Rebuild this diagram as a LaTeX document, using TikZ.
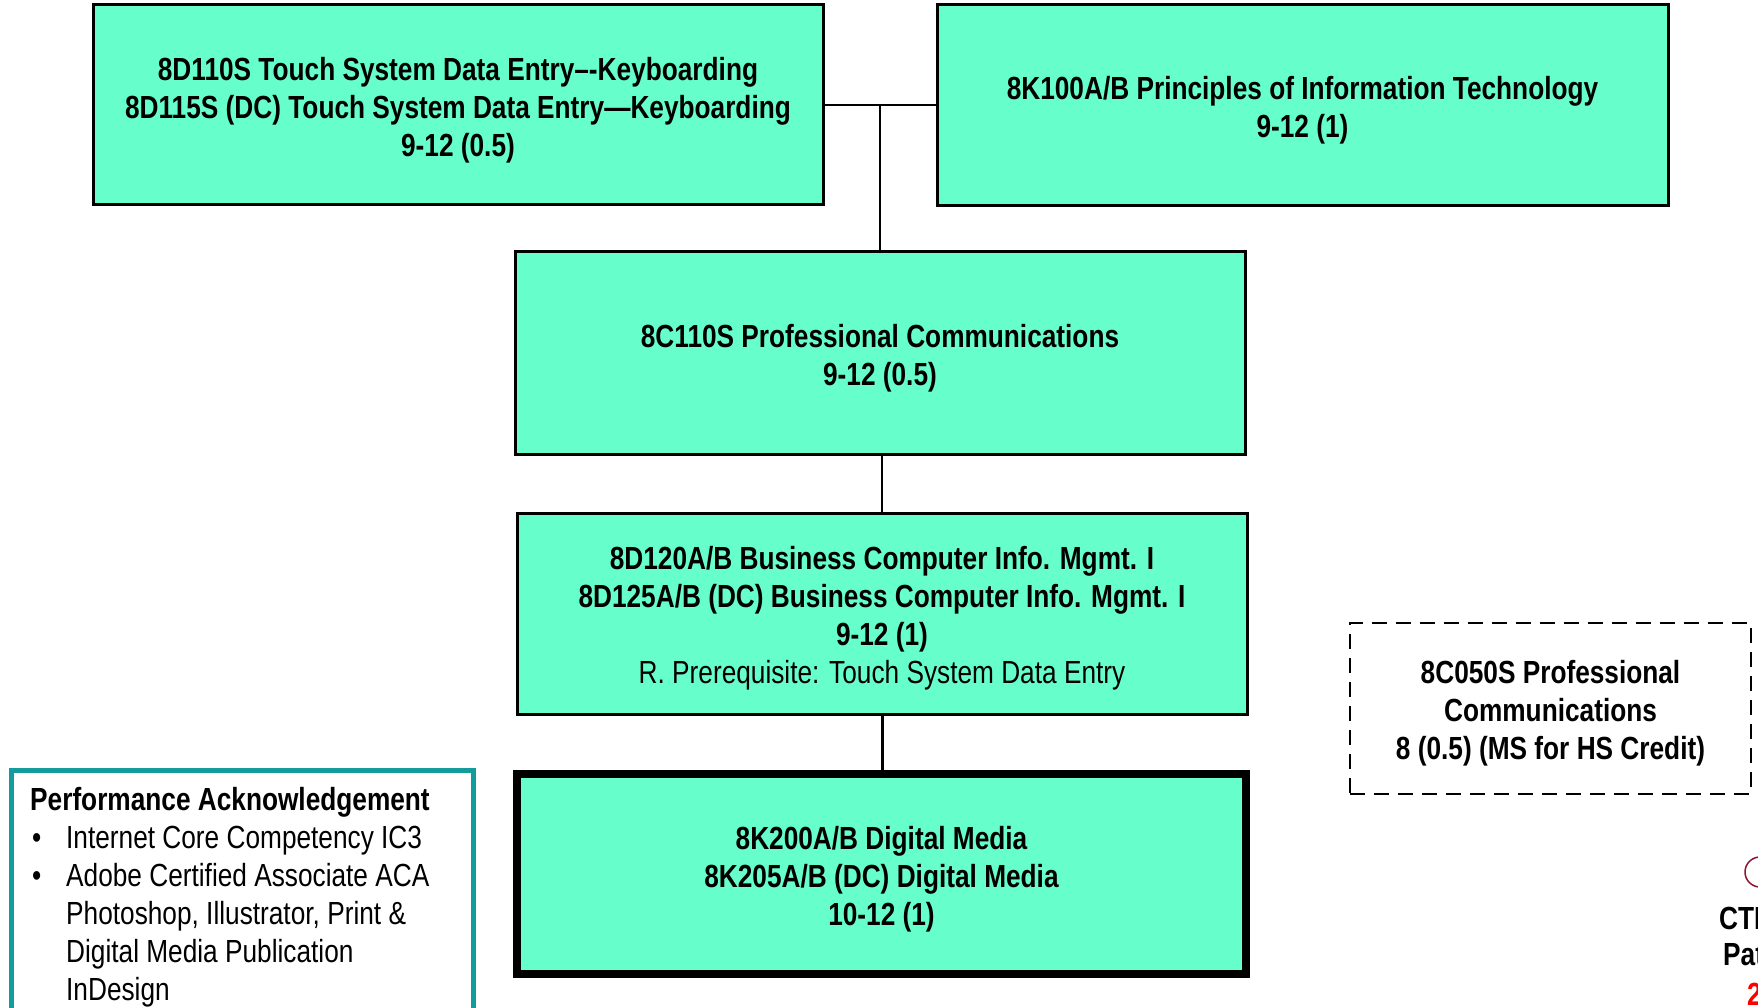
\documentclass[tikz,border=0pt]{standalone}
\usepackage{fontspec}
\usetikzlibrary{calc}
\setmainfont{Liberation Sans}[FakeStretch=0.82]
\definecolor{boxfill}{RGB}{102,255,204}
\definecolor{tealframe}{RGB}{20,155,155}
\definecolor{logored}{RGB}{140,20,50}
\newcommand{\lift}{\rule{0pt}{33pt}}
\begin{document}
\begin{tikzpicture}[x=1pt,y=-1pt,
  every node/.style={font=\fontsize{32}{38}\selectfont},
  course/.style={draw=black, line width=3pt, fill=boxfill, align=center, inner sep=0pt},
  heavy/.style={course, line width=8pt},
  optional/.style={draw=black, line width=2.8pt, dashed, dash pattern=on 15pt off 9pt, align=center, inner sep=0pt},
  link/.style={draw=black, line width=2.8pt},
  perfbox/.style={draw=tealframe, line width=5pt, fill=white, inner sep=0pt}]
\useasboundingbox (0,0) rectangle (1758,1008);
\clip (0,0) rectangle (1758,1008);

\node[course, minimum width=730pt, minimum height=200pt] (a) at (458,105)
  {\lift\bfseries 8D110S Touch System Data Entry–-Keyboarding\\ \bfseries 8D115S (DC) Touch System Data Entry—Keyboarding\\ \bfseries 9-12 (0.5)};
\node[course, minimum width=731pt, minimum height=201pt] (b) at (1302.5,105)
  {\lift\bfseries 8K100A/B Principles of Information Technology\\ \bfseries 9-12 (1)};
\node[course, minimum width=730pt, minimum height=202pt] (c) at (880,353)
  {\lift\bfseries 8C110S Professional Communications\\ \bfseries 9-12 (0.5)};
\node[course, minimum width=730pt, minimum height=201pt] (d) at (882,613.5)
  {\lift\bfseries 8D120A/B Business Computer Info. Mgmt. I\\ \bfseries 8D125A/B (DC) Business Computer Info. Mgmt. I\\ \bfseries 9-12 (1)\\ R. Prerequisite: Touch System Data Entry};
\node[heavy, minimum width=729pt, minimum height=200pt] (e) at (881.5,874)
  {\lift\bfseries 8K200A/B Digital Media\\ \bfseries 8K205A/B (DC) Digital Media\\ \bfseries 10-12 (1)};
\node[optional, minimum width=401pt, minimum height=171pt] (f) at (1550.5,708.5)
  {\lift\bfseries 8C050S Professional\\ \bfseries Communications\\ \bfseries 8 (0.5) (MS for HS Credit)};

\coordinate (j) at ($(a.east)!0.5!(b.west)$);
\draw[link] (a.east) -- (b.west);
\draw[link] (j) -- (j |- c.north);
\draw[link] (d.north |- c.south) -- (d.north);
\draw[link] ([xshift=1pt]e.north |- d.south) -- ([xshift=1pt,yshift=-4pt]e.north);

\node[perfbox, minimum width=462pt, minimum height=260pt, anchor=north west] (g) at (9,768) {};
\node[anchor=north west, align=left, inner sep=0pt] (gt) at (30,787)
  {\textbf{Performance Acknowledgement}\\
   \hspace*{2pt}\makebox[34pt][l]{•}Internet Core Competency IC3\\
   \hspace*{2pt}\makebox[34pt][l]{•}Adobe Certified Associate ACA\\
   \hspace*{36pt}Photoshop, Illustrator, Print \&\\
   \hspace*{36pt}Digital Media Publication\\
   \hspace*{36pt}InDesign};

\draw[logored, line width=1.5pt] (1760,887) arc[start angle=90, end angle=270, radius=15];
\node[anchor=west, inner sep=0pt, font=\fontsize{32}{38}\selectfont\bfseries] (cte) at (1719,918) {CTE};
\node[anchor=west, inner sep=0pt, font=\fontsize{32}{38}\selectfont\bfseries] (pat) at (1723,955) {Pat};
\node[anchor=west, inner sep=0pt, text=red, font=\fontsize{32}{38}\selectfont\bfseries] (yr) at (1747,994) {2};
\end{tikzpicture}
\end{document}
